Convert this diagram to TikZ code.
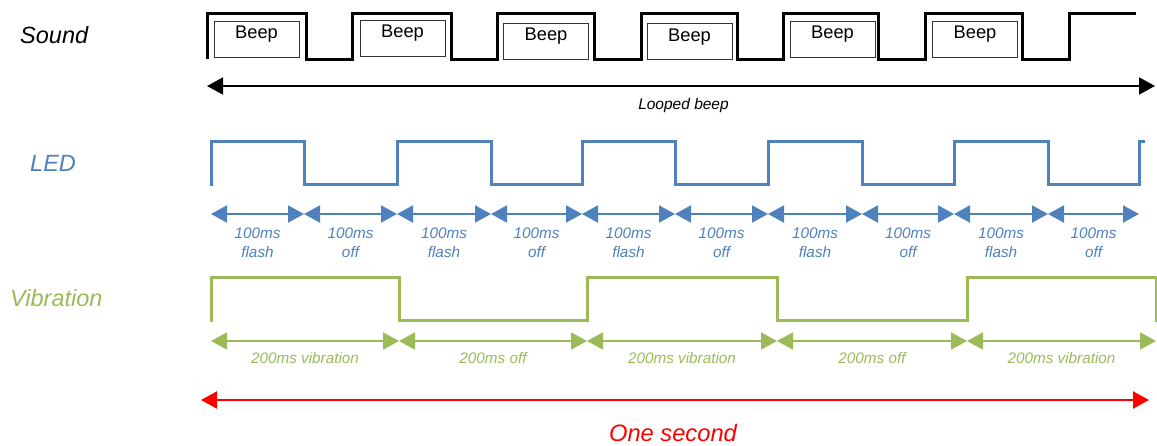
\documentclass[tikz,border=0pt]{standalone}
\usepackage{fontspec}
\setmainfont{Liberation Sans}
\usetikzlibrary{arrows.meta,calc}
\definecolor{ledblue}{HTML}{4F81BD}
\definecolor{vibgreen}{HTML}{9BBB59}
\definecolor{redline}{HTML}{FF0000}
\definecolor{boxgray}{HTML}{333333}
\tikzset{
  rowlabel/.style={font=\fontsize{23.5}{28}\selectfont\itshape, anchor=west, inner sep=0pt},
  wave/.style={line width=3pt, line join=miter},
  beepbox/.style={draw=boxgray, line width=1pt, minimum width=85pt, minimum height=36pt, inner sep=0pt},
  beeptext/.style={font=\fontsize{18.3}{22}\selectfont, inner sep=0pt},
  dimarrow/.style={line width=2pt, arrows={Triangle[length=16pt,width=17pt]-Triangle[length=16pt,width=17pt]}},
  smalllbl/.style={font=\fontsize{15.3}{19}\selectfont\itshape, align=center, inner sep=0pt},
}
\begin{document}
\begin{tikzpicture}[x=1pt,y=-1pt]
\useasboundingbox (0,0) rectangle (1157,445);

% Row labels
\node[rowlabel] (sound) at (20,35) {Sound};
\node[rowlabel, text=ledblue] (led) at (30,163) {LED};
\node[rowlabel, text=vibgreen] (vib) at (10,298) {Vibration};

% Sound waveform
\draw[wave] (207,59)--(207,13)--(306,13)--(306,59)--(352,59)--(352,13)--(451,13)--(451,59)
  --(497,59)--(497,13)--(594,13)--(594,59)--(641,59)--(641,13)--(737,13)--(737,59)
  --(783,59)--(783,13)--(878,13)--(878,59)--(925,59)--(925,13)--(1022,13)--(1022,59)
  --(1069,59)--(1069,13)--(1136,13);

% Beep boxes
\foreach \i/\x/\y/\ty in {1/256.5/39/34.5, 2/402.5/38/33.5, 3/546/41/36.5, 4/689.5/41/37.5, 5/832.5/39.5/34.5, 6/975/39.5/34.5}{
  \node[beepbox] (box\i) at (\x,\y) {};
  \node[beeptext] (beep\i) at (\x,\ty) {Beep};
}

% Looped beep arrow
\coordinate (lbL) at (207,86);
\coordinate (lbR) at (1155,86);
\draw[dimarrow, line width=1.8pt] (lbL) -- (lbR);
\node[font=\fontsize{15.5}{18}\selectfont\itshape, inner sep=0pt] (looped) at (683.5,105) {Looped beep};

% LED waveform
\draw[wave, ledblue] (211,186)--(211,141)--(304,141)--(304,184)--(397,184)--(397,141)--(491,141)--(491,184)
  --(582,184)--(582,141)--(675,141)--(675,184)--(768,184)--(768,141)--(862,141)--(862,184)
  --(954,184)--(954,141)--(1048,141)--(1048,184)--(1139,184)--(1139,141)--(1145,141);

% LED arrows
\foreach \i/\x in {0/211,1/304,2/397,3/491,4/582,5/675,6/768,7/862,8/954,9/1048,10/1139}{
  \coordinate (L\i) at (\x,214);
}
\foreach \a/\b/\w in {0/1/flash,1/2/off,2/3/flash,3/4/off,4/5/flash,5/6/off,6/7/flash,7/8/off,8/9/flash,9/10/off}{
  \draw[dimarrow, ledblue] (L\a) -- (L\b);
  \node[smalllbl, text=ledblue] (ledlbl\a) at ($(L\a)!0.5!(L\b)+(0,28.5)$) {100ms\\\w};
}

% Vibration waveform
\draw[wave, vibgreen] (211,322)--(211,277)--(399,277)--(399,320)--(587,320)--(587,277)--(777,277)--(777,320)
  --(967,320)--(967,277)--(1156,277)--(1156,322);

% Vibration arrows
\foreach \i/\x in {0/211,1/399,2/587,3/777,4/967,5/1156}{
  \coordinate (V\i) at (\x,341);
}
\foreach \a/\b/\w in {0/1/200ms vibration,1/2/200ms off,2/3/200ms vibration,3/4/200ms off,4/5/200ms vibration}{
  \draw[dimarrow, vibgreen, line width=1.8pt] (V\a) -- (V\b);
  \node[smalllbl, text=vibgreen] (viblbl\a) at ($(V\a)!0.5!(V\b)+(0,17)$) {\w};
}

% One second
\coordinate (osL) at (201,400);
\coordinate (osR) at (1149,400);
\draw[dimarrow, redline, line width=2.2pt] (osL) -- (osR);
\node[font=\fontsize{23.7}{28}\selectfont\itshape, text=redline, inner sep=0pt] (onesec) at (673,433) {One second};
\end{tikzpicture}
\end{document}
